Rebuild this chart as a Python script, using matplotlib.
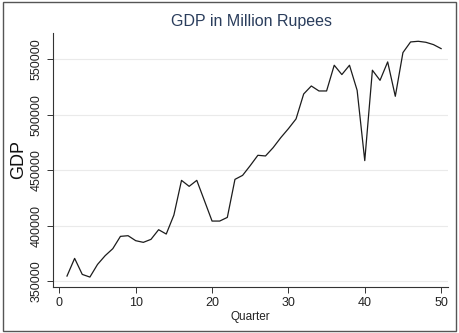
import matplotlib.pyplot as plt
from matplotlib.patches import Rectangle

quarter = list(range(1, 51))
gdp = [354500, 370450, 356000, 353600, 365000, 372900, 379200, 390300, 390900, 386400,
       384900, 387600, 396300, 392400, 409500, 440800, 435400, 440800, 422500, 404100,
       404100, 407400, 441700, 445300, 454100, 463400, 462800, 470300, 479300, 487400,
       496200, 518700, 525900, 521400, 521400, 544600, 536200, 544600, 522000, 458600,
       540100, 531000, 547600, 516600, 556000, 565600, 566200, 565300, 563200, 559600]
yticks = [350000, 400000, 450000, 500000, 550000]
xticks = [0, 10, 20, 30, 40, 50]

plt.rcParams['font.family'] = ['Liberation Sans', 'DejaVu Sans']

fig = plt.figure(figsize=(4.59, 3.33), dpi=100)
ax = fig.add_axes([0.116, 0.139, 0.86, 0.762])

ax.plot(quarter, gdp, color='#1c1c1c', linewidth=0.9)

ax.set_xlim(-0.8, 50.9)
ax.set_ylim(344900, 573700)
ax.set_xticks(xticks)
ax.set_yticks(yticks)
ax.set_yticklabels([str(v) for v in yticks], rotation=90, va='center')

for side in ['top', 'right']:
    ax.spines[side].set_visible(False)
for side in ['left', 'bottom']:
    ax.spines[side].set_color('#333333')
    ax.spines[side].set_linewidth(0.8)

ax.tick_params(axis='both', colors='#333333', labelcolor='#222222', labelsize=9,
               length=4, width=0.7, direction='out')
ax.grid(axis='y', color='#eaeaea', linewidth=0.8)
ax.set_axisbelow(True)

ax.set_xlabel('Quarter', fontsize=8.5, color='#222222', labelpad=1)
ax.set_ylabel('GDP', fontsize=13, color='#111111', labelpad=3)
fig.text(0.547, 0.935, 'GDP in Million Rupees', ha='center', va='center',
         fontsize=11.5, color='#2a3d5c')

# outer frame around the whole graph
fig.patches.append(Rectangle((0.006, 0.006), 0.988, 0.988, transform=fig.transFigure,
                             fill=False, edgecolor='#555555', linewidth=1.0))

fig.savefig('out.png', dpi=100)
